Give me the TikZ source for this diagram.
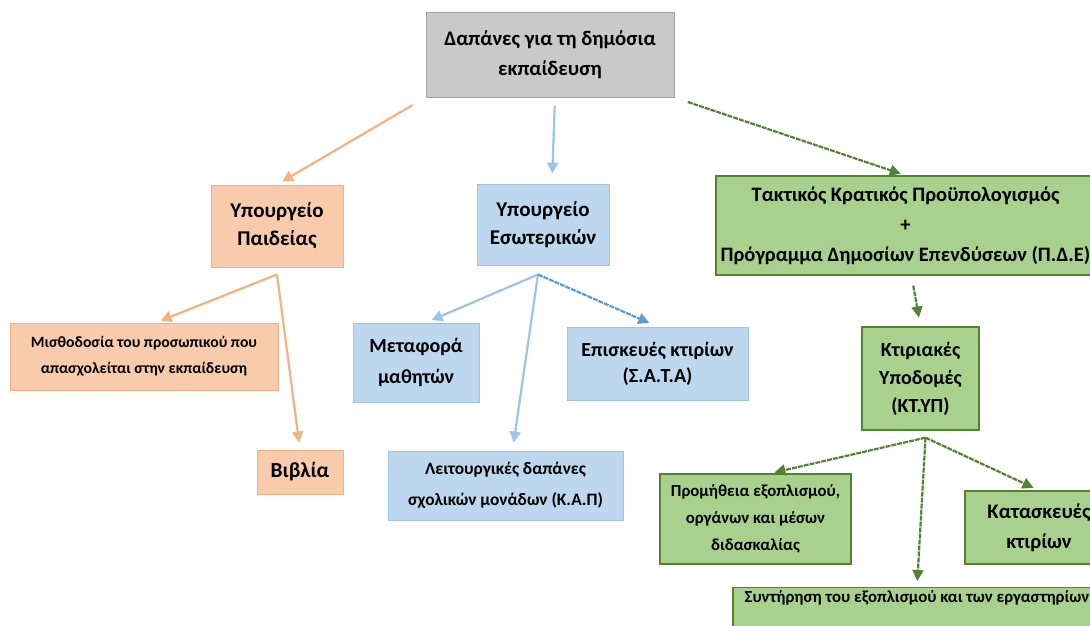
\documentclass[tikz,border=0pt]{standalone}
\usepackage{fontspec}
\setmainfont{Carlito}
\usetikzlibrary{arrows.meta,calc}
\definecolor{RootClr}{RGB}{201,201,201}
\definecolor{RootLine}{RGB}{160,160,160}
\definecolor{PaidClr}{RGB}{248,203,173}
\definecolor{PaidLine}{RGB}{244,177,131}
\definecolor{EsoClr}{RGB}{189,215,238}
\definecolor{EsoLine}{RGB}{157,195,230}
\definecolor{EsoDark}{RGB}{91,155,213}
\definecolor{PdeClr}{RGB}{169,209,142}
\definecolor{PdeLine}{RGB}{84,130,53}

\begin{document}
\begin{tikzpicture}[x=1pt,y=-1pt,
  box/.style={draw,line width=1pt,align=center,inner sep=0pt,text=black,font=\bfseries},
  rootbox/.style={box,fill=RootClr,draw=RootLine},
  paidbox/.style={box,fill=PaidClr,draw=PaidLine},
  esobox/.style={box,fill=EsoClr,draw=EsoLine},
  pdebox/.style={box,fill=PdeClr,draw=PdeLine,line width=1.3pt},
  big/.style={font=\bfseries\fontsize{20.7}{30}\selectfont},
  mid/.style={font=\bfseries\fontsize{20}{26}\selectfont},
  small/.style={font=\bfseries\fontsize{16.8}{27}\selectfont},
  arr/.style={line width=2.2pt,-{Triangle[length=11pt,width=11pt]}},
  dotarr/.style={arr,dash pattern=on 5pt off 1pt}]
\useasboundingbox (0,0) rectangle (1090,625);
\clip (0,0) rectangle (1090,625);

% boxes
\node[rootbox,big,minimum width=248pt,minimum height=85pt] (root) at (550,54.5) {Δαπάνες για τη δημόσια\\εκπαίδευση};

\node[paidbox,minimum width=132pt,minimum height=82pt,font=\bfseries\fontsize{21}{28}\selectfont] (paid) at (277,226) {Υπουργείο\\Παιδείας};
\node[esobox,minimum width=132pt,minimum height=81pt,font=\bfseries\fontsize{21}{28}\selectfont] (eso) at (543,224.5) {Υπουργείο\\Εσωτερικών};
\node[pdebox,minimum width=379pt,minimum height=99pt,font=\bfseries\fontsize{20.5}{30}\selectfont] (pde) at (905.5,225.5) {Τακτικός Κρατικός Προϋπολογισμός\\+\\Πρόγραμμα Δημοσίων Επενδύσεων (Π.Δ.Ε)};

\node[paidbox,minimum width=268pt,minimum height=67pt,font=\bfseries\fontsize{15.7}{26}\selectfont] (misth) at (144,356.5) {Μισθοδοσία του προσωπικού που\\απασχολείται στην εκπαίδευση};
\node[paidbox,minimum width=86pt,minimum height=44pt,font=\bfseries\fontsize{21.4}{30}\selectfont] (vivl) at (300,472) {Βιβλία};

\node[esobox,minimum width=126pt,minimum height=79pt,font=\bfseries\fontsize{20}{31}\selectfont] (metaf) at (416,362.5) {Μεταφορά\\μαθητών};
\node[esobox,minimum width=235pt,minimum height=69pt,font=\bfseries\fontsize{17.4}{31}\selectfont] (leit) at (505.5,485.5) {Λειτουργικές δαπάνες\\σχολικών μονάδων (Κ.Α.Π)};
\node[esobox,mid,minimum width=181pt,minimum height=73pt] (episk) at (657.5,363.5) {Επισκευές κτιρίων\\(Σ.Α.Τ.Α)};

\node[pdebox,minimum width=117pt,minimum height=103pt,font=\bfseries\fontsize{20}{28}\selectfont] (ktyp) at (920.5,378.5) {Κτιριακές\\Υποδομές\\(ΚΤ.ΥΠ)};
\node[pdebox,small,minimum width=191pt,minimum height=90pt] (prom) at (755.5,519) {Προμήθεια εξοπλισμού,\\οργάνων και μέσων\\διδασκαλίας};
\node[pdebox,big,minimum width=148pt,minimum height=73pt] (katask) at (1039,527.5) {Κατασκευές\\κτιρίων};
\node[pdebox,small,anchor=north,minimum width=368pt,inner ysep=3pt,text depth=40pt] (synt) at (917,587) {Συντήρηση του εξοπλισμού και των εργαστηρίων};

% forks
\coordinate (paidfork) at ([yshift=-7pt]paid.south);
\coordinate (esofork) at ([xshift=-5pt,yshift=-9pt]eso.south);
\coordinate (ktypfork) at ([xshift=5pt,yshift=-7pt]ktyp.south);

% arrows
\draw[arr,PaidLine,shorten <=15pt,shorten >=6pt] (root.south west) -- (paid.north);
\draw[arr,EsoLine,shorten <=8pt,shorten >=10pt] ([xshift=5pt]root.south) -- ([xshift=9pt]eso.north);
\draw[dotarr,PdeLine,shorten <=14pt,shorten >=5pt] (root.south east) -- (pde.north);

\draw[arr,PaidLine,shorten >=5pt] (paidfork) -- ([xshift=12pt]misth.north);
\draw[arr,PaidLine,shorten >=7pt] (paidfork) -- (vivl.north);

\draw[arr,EsoLine,shorten >=6pt] (esofork) -- ([xshift=10pt]metaf.north);
\draw[arr,EsoLine,shorten >=8pt] (esofork) -- ([xshift=7pt]leit.north);
\draw[dotarr,EsoDark,shorten >=9pt] (esofork) -- (episk.north);

\draw[dotarr,PdeLine,shorten <=10pt,shorten >=9pt] ([xshift=6pt]pde.south) -- (ktyp.north);
\draw[dotarr,PdeLine,shorten >=4pt] (ktypfork) -- ([xshift=15pt]prom.north);
\draw[dotarr,PdeLine,shorten >=6pt] (ktypfork) -- (synt.north);
\draw[dotarr,PdeLine,shorten >=6pt] (ktypfork) -- (katask.north);

\end{tikzpicture}
\end{document}
